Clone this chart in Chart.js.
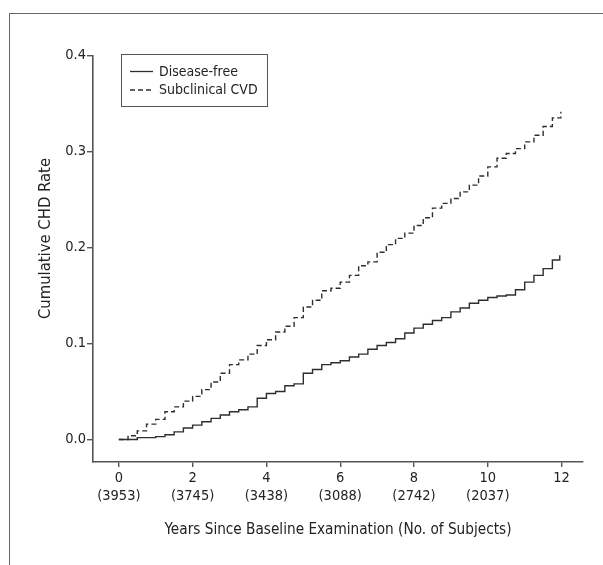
<!DOCTYPE html>
<html lang="en">
<head>
<meta charset="UTF-8">
<title>Cumulative CHD Rate</title>
<script src="https://cdn.jsdelivr.net/npm/chart.js"></script>
<style>
    * { margin: 0; padding: 0; box-sizing: border-box; }
    body { background: #fff; width: 603px; height: 565px; overflow: hidden; position: relative; }
    .frame {
        position: absolute;
        left: 9px;
        top: 13px;
        right: -5px;
        bottom: -5px;
        border-top: 1.5px solid #666;
        border-left: 1.5px solid #666;
    }
    canvas { position: absolute; left: 0; top: 0; }
</style>
</head>
<body>
<div class="frame"></div>
<canvas id="chd" width="603" height="565"></canvas>

<script>
// years since baseline at each step, and the cumulative rate reached there
const freeTimes = [0, 0.5, 1, 1.25, 1.5, 1.75, 2, 2.25, 2.5, 2.75, 3, 3.25, 3.5, 3.75, 4, 4.25, 4.5, 4.75,
    5, 5.25, 5.5, 5.75, 6, 6.25, 6.5, 6.75, 7, 7.25, 7.5, 7.75, 8, 8.25, 8.5, 8.75, 9, 9.25, 9.5, 9.75,
    10, 10.25, 10.5, 10.75, 11, 11.25, 11.5, 11.75, 11.95];
const freeRates = [0, 0.002, 0.003, 0.005, 0.008, 0.012, 0.015, 0.0186, 0.022, 0.0255, 0.029, 0.031, 0.034, 0.043, 0.048, 0.050, 0.056, 0.058,
    0.069, 0.073, 0.078, 0.080, 0.082, 0.086, 0.089, 0.094, 0.098, 0.101, 0.105, 0.111, 0.116, 0.120, 0.124, 0.127, 0.133, 0.137, 0.142, 0.145,
    0.148, 0.1495, 0.1505, 0.156, 0.164, 0.171, 0.178, 0.187, 0.192];

const cvdTimes = [0, 0.25, 0.5, 0.75, 1, 1.25, 1.5, 1.75, 2, 2.25, 2.5, 2.75, 3, 3.25, 3.5, 3.75, 4, 4.25, 4.5, 4.75,
    5, 5.25, 5.5, 5.75, 6, 6.25, 6.5, 6.75, 7, 7.25, 7.5, 7.75, 8, 8.25, 8.5, 8.75, 9, 9.25, 9.5, 9.75,
    10, 10.25, 10.5, 10.75, 11, 11.25, 11.5, 11.75, 11.98];
const cvdRates = [0, 0.004, 0.009, 0.016, 0.021, 0.029, 0.034, 0.040, 0.045, 0.052, 0.060, 0.069, 0.078, 0.083, 0.089, 0.098, 0.104, 0.112, 0.118, 0.127,
    0.138, 0.145, 0.155, 0.1575, 0.164, 0.171, 0.181, 0.185, 0.195, 0.203, 0.2095, 0.215, 0.223, 0.231, 0.241, 0.246, 0.251, 0.258, 0.265, 0.2745,
    0.284, 0.293, 0.298, 0.303, 0.310, 0.317, 0.326, 0.335, 0.3415];

const xTicks = [0, 2, 4, 6, 8, 10, 12];
const xSubjects = ['(3953)', '(3745)', '(3438)', '(3088)', '(2742)', '(2037)', ''];
const yTicks = [0, 0.1, 0.2, 0.3, 0.4];
const yTitle = 'Cumulative CHD Rate';

const FONT = "'Liberation Sans Narrow', 'Arial Narrow', 'DejaVu Sans Condensed', sans-serif";
const INK = '#2e2e2e';
const AXIS = '#555';

Chart.defaults.font.family = FONT;
Chart.defaults.color = '#222';

function toPoints(xs, ys) {
    return xs.map((x, i) => ({ x: x, y: ys[i] }));
}

// legend drawn inside the plot, boxed, upper left; y title sits a bit above centre
const annotate = {
    id: 'annotate',
    afterDraw(chart) {
        const ctx = chart.ctx;
        const area = chart.chartArea;
        const left = area.left + 28, top = area.top - 1.5;
        const w = 146, h = 52;
        ctx.save();
        ctx.strokeStyle = AXIS;
        ctx.lineWidth = 1;
        ctx.strokeRect(left + 0.5, top + 0.5, w, h);
        ctx.font = '14px ' + FONT;
        ctx.textBaseline = 'middle';
        ctx.fillStyle = '#222';
        chart.data.datasets.forEach((ds, i) => {
            const y = top + 17.5 + i * 18.5;
            ctx.beginPath();
            ctx.setLineDash(ds.borderDash || []);
            ctx.strokeStyle = INK;
            ctx.lineWidth = 1.3;
            ctx.moveTo(left + 9, y);
            ctx.lineTo(left + 32, y);
            ctx.stroke();
            ctx.setLineDash([]);
            ctx.fillText(ds.label, left + 38, y + 0.5);
        });

        const ys = chart.scales.y;
        ctx.translate(area.left - 47, ys.getPixelForValue(0.2) - 9);
        ctx.rotate(-Math.PI / 2);
        ctx.textAlign = 'center';
        ctx.font = '16.5px ' + FONT;
        ctx.fillText(yTitle, 0, 0);
        ctx.restore();
    }
};

new Chart(document.getElementById('chd'), {
    type: 'line',
    data: {
        datasets: [{
            label: 'Disease-free',
            data: toPoints(freeTimes, freeRates),
            borderColor: INK,
            borderWidth: 1.4,
            stepped: true,
            pointRadius: 0,
            fill: false
        }, {
            label: 'Subclinical CVD',
            data: toPoints(cvdTimes, cvdRates),
            borderColor: INK,
            borderWidth: 1.4,
            borderDash: [5, 3],
            stepped: true,
            pointRadius: 0,
            fill: false
        }]
    },
    options: {
        responsive: false,
        animation: false,
        layout: { padding: { top: 55.5, right: 20, bottom: 0, left: 0 } },
        plugins: {
            legend: { display: false },
            tooltip: { enabled: false }
        },
        scales: {
            x: {
                type: 'linear',
                min: -0.7,
                max: 12.58,
                afterBuildTicks: scale => { scale.ticks = xTicks.map(v => ({ value: v })); },
                afterFit: scale => { scale.height = 103; },
                ticks: {
                    padding: 3,
                    maxRotation: 0,
                    autoSkip: false,
                    font: { size: 14.5, lineHeight: 1.2 },
                    callback: (value, index) => xSubjects[index] ? [String(value), xSubjects[index]] : String(value)
                },
                grid: { drawOnChartArea: false, drawTicks: true, tickLength: 5, color: AXIS, lineWidth: 1.4 },
                border: { display: true, color: AXIS, width: 1.6 },
                title: {
                    display: true,
                    text: 'Years Since Baseline Examination (No. of Subjects)',
                    font: { size: 15.2, lineHeight: 1.2 },
                    padding: { top: 0, bottom: 26 }
                }
            },
            y: {
                type: 'linear',
                min: -0.0234,
                max: 0.4,
                afterBuildTicks: scale => { scale.ticks = yTicks.map(v => ({ value: v })); },
                afterFit: scale => { scale.width = 93; },
                ticks: {
                    padding: 1,
                    font: { size: 14.5 },
                    callback: value => value.toFixed(1)
                },
                grid: { drawOnChartArea: false, drawTicks: true, tickLength: 6, color: AXIS, lineWidth: 1.4 },
                border: { display: true, color: AXIS, width: 1.6 },
                title: { display: false }
            }
        }
    },
    plugins: [annotate]
});
</script>
</body>
</html>
